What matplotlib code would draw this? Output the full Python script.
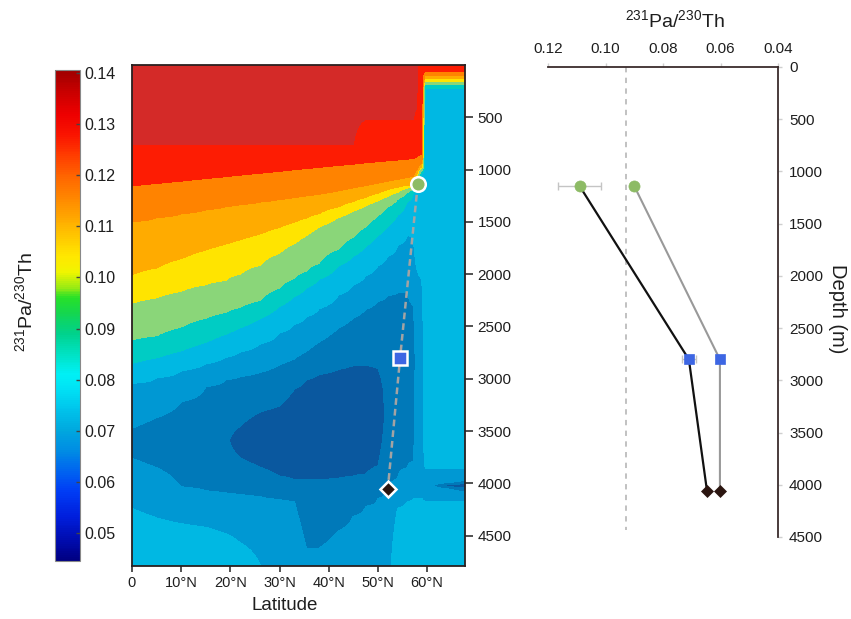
import numpy as np
import matplotlib
matplotlib.use("Agg")
import matplotlib.pyplot as plt
from matplotlib.colors import LinearSegmentedColormap, Normalize
from matplotlib.cm import ScalarMappable

plt.rcParams['font.family'] = ['Liberation Sans', 'DejaVu Sans']
plt.rcParams['mathtext.fontset'] = 'custom'
plt.rcParams['mathtext.rm'] = 'Liberation Sans'
plt.rcParams['mathtext.default'] = 'regular'

# ---------------- data: section profiles (depth m, 231Pa/230Th) read at each latitude ----------
col_00 = [(0, .135), (765, .130), (1157, .120), (1498, .110), (2007, .105), (2278, .100), (2629, .090), (2852, .080), (3043, .070), (3473, .065), (3615, .0625), (3760, .065), (4000, .0675), (4238, .070), (4790, .075)]
col_05 = [(0, .135), (765, .130), (1133, .120), (1460, .110), (1941, .105), (2226, .100), (2589, .090), (2800, .080), (2991, .070), (3370, .065), (3610, .0625), (3850, .065), (4090, .0675), (4330, .070), (4790, .075)]
col_10 = [(0, .135), (765, .130), (1110, .120), (1422, .110), (1852, .105), (2165, .100), (2505, .090), (2732, .080), (2923, .070), (3220, .065), (3630, .0625), (4035, .065), (4210, .0675), (4385, .070), (4790, .075)]
col_15 = [(0, .135), (765, .130), (1086, .120), (1384, .110), (1768, .105), (2102, .100), (2420, .090), (2650, .080), (2857, .070), (3075, .065), (3570, .0625), (4072, .065), (4250, .0675), (4420, .070), (4790, .075)]
col_19 = [(0, .135), (765, .130), (1068, .120), (1353, .110), (1713, .105), (2061, .100), (2365, .090), (2574, .080), (2796, .070), (3010, .065), (3580, .0612), (4092, .065), (4290, .0675), (4480, .070), (4790, .075)]
col_22 = [(0, .135), (765, .130), (1053, .120), (1334, .110), (1671, .105), (2000, .100), (2317, .090), (2512, .080), (2742, .070), (2980, .065), (3455, .060), (3600, .0565), (3755, .060), (4106, .065), (4340, .0675), (4570, .070), (4790, .0735)]
col_26 = [(0, .135), (765, .130), (1035, .120), (1310, .110), (1616, .105), (1915, .100), (2252, .090), (2428, .080), (2667, .070), (2940, .065), (3320, .060), (3580, .056), (3845, .060), (4125, .065), (4450, .0675), (4790, .0701)]
col_30 = [(0, .135), (765, .130), (1017, .120), (1285, .110), (1552, .105), (1800, .100), (2132, .090), (2308, .080), (2560, .070), (2868, .065), (3260, .060), (3600, .0555), (3930, .060), (4153, .065), (4500, .0675), (4790, .068)]
col_33 = [(0, .135), (765, .130), (1001, .120), (1266, .110), (1503, .105), (1710, .100), (2041, .090), (2212, .080), (2478, .070), (2810, .065), (3100, .060), (3530, .0555), (3967, .060), (4172, .065), (4480, .0675), (4790, .068)]
col_35 = [(0, .135), (765, .130), (990, .120), (1250, .110), (1463, .105), (1631, .100), (1969, .090), (2131, .080), (2405, .070), (2737, .065), (3010, .060), (3490, .055), (3967, .060), (4300, .0625), (4621, .065), (4790, .0665)]
col_38 = [(0, .135), (765, .130), (978, .120), (1235, .110), (1422, .105), (1550, .100), (1898, .090), (2050, .080), (2331, .070), (2650, .065), (2960, .060), (3460, .055), (3967, .060), (4300, .0625), (4621, .065), (4790, .0665)]
col_42 = [(0, .135), (765, .130), (960, .120), (1202, .110), (1356, .105), (1458, .100), (1760, .090), (1920, .080), (2198, .070), (2515, .065), (2910, .060), (3430, .055), (3950, .060), (4200, .0625), (4455, .065), (4790, .067)]
col_45 = [(0, .135), (765, .130), (947, .120), (1175, .110), (1307, .105), (1398, .100), (1646, .090), (1828, .080), (2100, .070), (2418, .065), (2875, .060), (3400, .055), (3930, .060), (4120, .0625), (4313, .065), (4790, .067)]
col_47 = [(0, .135), (519, .130), (936, .120), (1152, .110), (1266, .105), (1348, .100), (1546, .090), (1733, .080), (2016, .070), (2336, .065), (2870, .060), (3390, .055), (3910, .060), (4065, .0625), (4220, .065), (4790, .067)]
col_50 = [(0, .135), (519, .130), (926, .120), (1130, .110), (1225, .105), (1298, .100), (1440, .090), (1630, .080), (1916, .070), (2262, .065), (2900, .060), (3365, .056), (3830, .060), (3990, .0625), (4143, .065), (4790, .067)]
col_52 = [(0, .135), (519, .130), (917, .120), (1111, .110), (1192, .105), (1259, .100), (1356, .090), (1547, .080), (1828, .070), (2203, .065), (2600, .0625), (3100, .0615), (3600, .0625), (4050, .065), (4790, .0675)]
col_54 = [(0, .135), (519, .130), (909, .120), (1093, .110), (1169, .105), (1219, .100), (1284, .090), (1435, .080), (1723, .070), (2175, .065), (3000, .0625), (3957, .065), (4100, .0675), (4238, .070), (4790, .075)]
col_56 = [(0, .135), (519, .130), (900, .120), (1075, .110), (1152, .105), (1179, .100), (1220, .090), (1303, .080), (1619, .070), (2180, .065), (3000, .0625), (3850, .065), (4010, .0675), (4180, .070), (4790, .075)]
col_57 = [(0, .135), (519, .130), (895, .120), (1065, .110), (1142, .105), (1160, .100), (1185, .090), (1215, .080), (1650, .070), (2300, .065), (2800, .0625), (3400, .0635), (3790, .065), (3960, .0675), (4150, .070), (4790, .075)]
col_58 = [(0, .1305), (400, .1301), (519, .128), (880, .120), (1000, .110), (1050, .105), (1085, .100), (1110, .090), (1150, .080), (1950, .070), (2600, .0675), (3860, .0675), (4143, .070), (4790, .075)]
col_59 = [(0, .125), (223, .1248), (850, .121), (930, .110), (970, .105), (990, .100), (1010, .090), (1040, .080), (1300, .075), (2050, .070), (2600, .0675), (3864, .0675), (4143, .070), (4790, .075)]
col_60 = [(0, .125), (64, .120), (96, .110), (127, .105), (159, .100), (182, .090), (223, .080), (600, .073), (3500, .073), (3856, .070), (4020, .0675), (4175, .070), (4790, .075)]
col_61 = [(0, .125), (64, .120), (96, .110), (127, .105), (159, .100), (182, .090), (223, .080), (600, .075), (3500, .075), (3856, .070), (4022, .066), (4175, .070), (4790, .075)]
col_64 = [(0, .125), (64, .120), (96, .110), (127, .105), (159, .100), (182, .090), (223, .080), (600, .075), (3500, .075), (3856, .070), (3990, .066), (4022, .058), (4055, .066), (4175, .070), (4790, .075)]
col_68 = [(0, .125), (64, .120), (96, .110), (127, .105), (159, .100), (182, .090), (223, .080), (600, .075), (3500, .075), (3856, .070), (3960, .0675), (4000, .060), (4022, .057), (4045, .060), (4100, .0675), (4175, .070), (4790, .075)]

section_lat = [0, 5, 10, 15, 19, 22, 26, 30, 33, 35.5, 38, 42, 45, 47.5, 50, 52, 54, 56, 57.2, 57.9, 58.9, 59.6, 61, 64, 68]
section_cols = [col_00, col_05, col_10, col_15, col_19, col_22, col_26, col_30, col_33, col_35,
                col_38, col_42, col_45, col_47, col_50, col_52, col_54, col_56, col_57, col_58,
                col_59, col_60, col_61, col_64, col_68]

level_bounds = [0.0, 0.060, 0.065, 0.070, 0.080, 0.090, 0.100, 0.105, 0.110, 0.120, 0.130, 0.20]

# sediment core sites
site_lat = [58.1, 54.5, 52.0]
core_depth = [1140, 2800, 4058]
pa_th_measured = [0.109, 0.071, 0.0647]
pa_th_err = [0.0075, 0.0024, 0.0]
pa_th_model = [0.090, 0.0602, 0.0602]
production_ratio = 0.093
prod_line_depth = [0, 4430]

lat_ticks = [0, 10, 20, 30, 40, 50, 60]
lat_labels = ['0', '10°N', '20°N', '30°N', '40°N', '50°N', '60°N']
depth_ticks_left = [500, 1000, 1500, 2000, 2500, 3000, 3500, 4000, 4500]
depth_ticks_right = [0, 500, 1000, 1500, 2000, 2500, 3000, 3500, 4000, 4500]
ratio_ticks = [0.12, 0.10, 0.08, 0.06, 0.04]
cbar_ticks = [0.05, 0.06, 0.07, 0.08, 0.09, 0.10, 0.11, 0.12, 0.13, 0.14]

# ---------------- styles ----------------
fill_colors = ['#0a589f', '#0079b9', '#0098d3', '#00b8e3', '#00ccc4', '#8ad679',
               '#ffe400', '#ffab00', '#ff8300', '#fd1c03', '#d42a28']
site_colors = ['#8dbb65', '#3d66e3', '#2b1510']
site_markers = ['o', 's', 'D']

cb_vals = [0.0445, 0.048, 0.053, 0.058, 0.062, 0.066, 0.070, 0.074, 0.078, 0.081, 0.085,
           0.089, 0.093, 0.096, 0.098, 0.101, 0.104, 0.108, 0.112, 0.116, 0.120, 0.124,
           0.128, 0.132, 0.136, 0.1406]
cb_cols = [(0, 0, 130), (0, 10, 170), (0, 30, 220), (0, 60, 245), (0, 100, 240), (0, 140, 228),
           (0, 168, 222), (0, 195, 235), (0, 225, 245), (0, 240, 245), (0, 226, 195),
           (0, 210, 140), (20, 214, 80), (40, 225, 40), (150, 235, 20), (240, 245, 0),
           (255, 232, 0), (255, 200, 0), (255, 165, 0), (255, 132, 0), (255, 100, 0),
           (255, 60, 0), (250, 20, 0), (238, 0, 0), (205, 0, 0), (160, 0, 0)]
vmin, vmax = cb_vals[0], cb_vals[-1]
cmap = LinearSegmentedColormap.from_list(
    'pa', [((v - vmin) / (vmax - vmin), tuple(c / 255 for c in rgb)) for v, rgb in zip(cb_vals, cb_cols)])

W, H = 851, 619


def box(x0, y0, x1, y1):
    return [x0 / W, 1 - y1 / H, (x1 - x0) / W, (y1 - y0) / H]


fig = plt.figure(figsize=(W / 100, H / 100), dpi=100)
txt = '#1e1e1e'
ratio_label = r'$^{231}$Pa/$^{230}$Th'

# ---------------- section panel ----------------
depth_grid = np.arange(0, 4800, 10)
Z = np.array([np.interp(depth_grid, [p[0] for p in c], [p[1] for p in c]) for c in section_cols]).T

ax = fig.add_axes(box(132, 65, 465, 566))
ax.contourf(section_lat, depth_grid, Z, levels=level_bounds, colors=fill_colors, zorder=1)
ax.set_xlim(0, 67.7)
ax.set_ylim(4790, 0)
ax.set_xticks(lat_ticks)
ax.set_xticklabels(lat_labels, fontsize=10.5, color=txt)
ax.yaxis.tick_right()
ax.set_yticks(depth_ticks_left)
ax.set_yticklabels([str(d) for d in depth_ticks_left], fontsize=11, color=txt)
ax.tick_params(axis='x', direction='out', length=4, width=1.2, color='#333333', pad=3)
ax.tick_params(axis='y', direction='out', length=6, width=1.2, color='#333333', pad=3)
for s in ax.spines.values():
    s.set_linewidth(1.3)
    s.set_color('#2a2020')
ax.set_xlabel('Latitude', fontsize=13.5, color=txt)
ax.xaxis.label.set_va('center')
ax.xaxis.set_label_coords((285 - 132) / 333, -(606 - 566) / 501)

ax.plot(site_lat, core_depth, linestyle=(0, (2.7, 1.6)), color='#a3a3a3', lw=1.8, zorder=3)
msz = [10.5, 9.5, 8.5]
for la, d, c, m, s in zip(site_lat, core_depth, site_colors, site_markers, msz):
    ax.plot([la], [d], marker=m, ms=s, mfc=c, mec='white', mew=1.8, zorder=4, linestyle='none')

# ---------------- colorbar ----------------
cax = fig.add_axes(box(55, 70, 80, 561))
cb = fig.colorbar(ScalarMappable(norm=Normalize(vmin, vmax), cmap=cmap), cax=cax)
cb.set_ticks(cbar_ticks)
cb.set_ticklabels(['%.2f' % t for t in cbar_ticks])
cax.tick_params(labelsize=11.5, direction='in', length=3, width=1, color='#444444', pad=3, labelcolor=txt)
cb.outline.set_edgecolor('#888888')
cb.outline.set_linewidth(0.8)
cax.set_ylabel(ratio_label, fontsize=14, color=txt)
cax.yaxis.set_label_position('left')
cax.yaxis.label.set_rotation_mode('default')
cax.yaxis.label.set_va('center')
cax.yaxis.label.set_ha('center')
cax.yaxis.set_label_coords((25 - 55) / 25, (561 - 302) / 491)

# ---------------- profile panel ----------------
ax2 = fig.add_axes(box(548, 67, 778, 537))
ax2.set_xlim(0.12, 0.04)
ax2.set_ylim(4500, 0)
for k in ['left', 'bottom']:
    ax2.spines[k].set_visible(False)
for k in ['top', 'right']:
    ax2.spines[k].set_linewidth(1.3)
    ax2.spines[k].set_color('#3a2c2c')
ax2.xaxis.tick_top()
ax2.yaxis.tick_right()
ax2.set_xticks(ratio_ticks)
ax2.set_xticklabels(['%.2f' % t for t in ratio_ticks])
ax2.set_yticks(depth_ticks_right)
ax2.set_yticklabels([str(d) for d in depth_ticks_right])
ax2.tick_params(axis='both', color='#cfcfcf', length=3, width=1, labelsize=11, labelcolor=txt)
ax2.tick_params(axis='y', pad=5)
ax2.tick_params(axis='x', pad=5)

ax2.plot([production_ratio] * 2, prod_line_depth, linestyle=(0, (3.5, 3.5)), color='#b0b0b0', lw=1.1, zorder=1)
ax2.errorbar(pa_th_measured, core_depth, xerr=pa_th_err, fmt='none', ecolor='#c4c4c4',
             elinewidth=1, capsize=3, capthick=1, zorder=2)
ax2.plot(pa_th_measured, core_depth, color='#111111', lw=1.6, zorder=3)
ax2.plot(pa_th_model, core_depth, color='#999999', lw=1.5, zorder=3)
rsz = [8, 6.5, 6]
for xs in (pa_th_measured, pa_th_model):
    for xv, d, c, m, s in zip(xs, core_depth, site_colors, site_markers, rsz):
        ax2.plot([xv], [d], marker=m, ms=s, mfc=c, mec=c, mew=0.5, zorder=4, linestyle='none')

ax2.set_xlabel(ratio_label, fontsize=14, color=txt)
ax2.xaxis.set_label_position('top')
ax2.xaxis.label.set_va('center')
ax2.xaxis.label.set_ha('center')
ax2.xaxis.set_label_coords((675 - 548) / 230, (537 - 20) / 470)
ax2.set_ylabel('Depth (m)', fontsize=14.5, color=txt)
ax2.yaxis.set_label_position('right')
ax2.yaxis.label.set_rotation(270)
ax2.yaxis.label.set_rotation_mode('default')
ax2.yaxis.label.set_va('center')
ax2.yaxis.label.set_ha('center')
ax2.yaxis.set_label_coords((838 - 548) / 230, (537 - 309) / 470)

fig.savefig('out.png', dpi=100)
